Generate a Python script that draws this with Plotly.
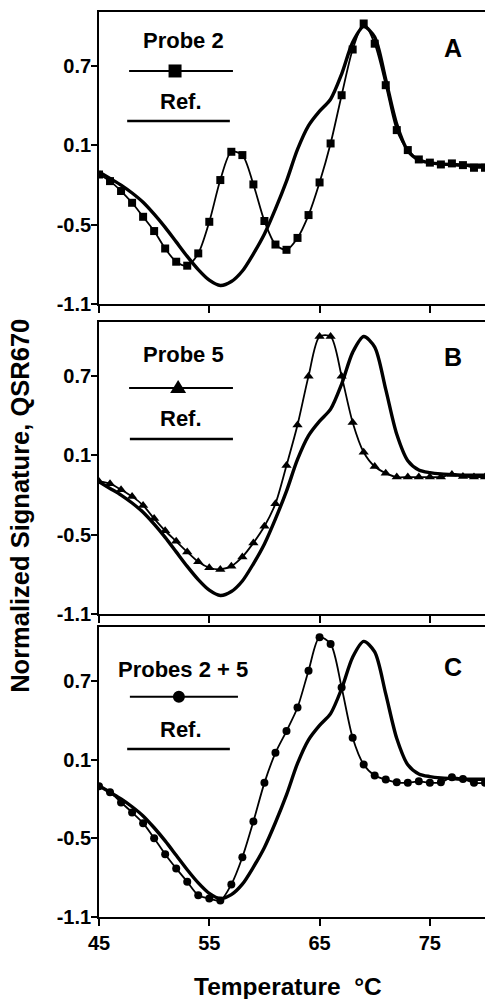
import plotly.graph_objects as go

# ---------------- data ----------------
temps = list(range(45, 81))

ref_sig = [-0.10, -0.15, -0.20, -0.26, -0.33, -0.42, -0.52, -0.63, -0.74, -0.84,
           -0.92, -0.96, -0.93, -0.85, -0.72, -0.57, -0.38, -0.17, 0.07, 0.25,
           0.36, 0.45, 0.64, 0.88, 1.00, 0.92, 0.60, 0.26, 0.06, -0.01,
           -0.03, -0.04, -0.045, -0.05, -0.05, -0.05]

probe2_sig = [-0.12, -0.17, -0.245, -0.334, -0.44, -0.548, -0.68, -0.78, -0.81, -0.717,
              -0.478, -0.162, 0.052, 0.027, -0.195, -0.472, -0.65, -0.69, -0.60, -0.427,
              -0.18, 0.115, 0.48, 0.826, 1.023, 0.87, 0.556, 0.216, 0.065, -0.006,
              -0.03, -0.044, -0.036, -0.049, -0.069, -0.069]

probe5_sig = [-0.097, -0.114, -0.16, -0.21, -0.278, -0.378, -0.47, -0.55, -0.63, -0.705,
              -0.75, -0.763, -0.738, -0.668, -0.562, -0.436, -0.265, 0.024, 0.33, 0.70,
              1.0, 1.0, 0.70, 0.35, 0.124, 0.016, -0.034, -0.064, -0.064, -0.064,
              -0.064, -0.064, -0.044, -0.06, -0.064, -0.064]

probes25_sig = [-0.104, -0.15, -0.227, -0.303, -0.385, -0.50, -0.622, -0.73, -0.832, -0.934,
                -0.96, -0.975, -0.852, -0.645, -0.372, -0.078, 0.151, 0.317, 0.496, 0.777,
                1.032, 0.981, 0.649, 0.266, 0.062, -0.022, -0.053, -0.074, -0.078, -0.066,
                -0.078, -0.074, -0.035, -0.048, -0.078, -0.078]

y_ticks = [-1.1, -0.5, 0.1, 0.7]
y_tick_labels = ["-1.1", "-0.5", "0.1", "0.7"]
x_ticks = [45, 55, 65, 75]
x_tick_labels = ["45", "55", "65", "75"]

panel_letters = ["A", "B", "C"]
probe_names = ["Probe 2", "Probe 5", "Probes 2 + 5"]
ref_name = "Ref."
probe_series = [probe2_sig, probe5_sig, probes25_sig]
probe_symbols = ["square", "triangle-up", "circle"]

y_title = "Normalized Signature, QSR670"
x_title = "Temperature  °C"

# ---------------- layout constants ----------------
FONT = "Liberation Sans, Arial, sans-serif"
W, H = 485, 999
domains = [[0.6957, 0.9880], [0.3854, 0.6777], [0.0821, 0.3724]]
marker_sizes = [8, 9, 8]

fig = go.Figure()
for i in range(3):
    xa = "x" if i == 0 else f"x{i+1}"
    ya = "y" if i == 0 else f"y{i+1}"
    fig.add_trace(go.Scatter(x=temps, y=ref_sig, mode="lines", name=ref_name,
                             line=dict(color="black", width=3.4, shape="spline", smoothing=0.8),
                             xaxis=xa, yaxis=ya, showlegend=False))
    fig.add_trace(go.Scatter(x=temps, y=probe_series[i], mode="lines+markers", name=probe_names[i],
                             line=dict(color="black", width=1.8, shape="spline", smoothing=0.8),
                             marker=dict(symbol=probe_symbols[i], size=marker_sizes[i], color="black"),
                             xaxis=xa, yaxis=ya, showlegend=False))

layout = dict(width=W, height=H, margin=dict(l=99, r=0, t=0, b=0),
              plot_bgcolor="white", paper_bgcolor="white", showlegend=False,
              font=dict(family=FONT, color="black"))

for i in range(3):
    xk = "xaxis" if i == 0 else f"xaxis{i+1}"
    yk = "yaxis" if i == 0 else f"yaxis{i+1}"
    ya = "y" if i == 0 else f"y{i+1}"
    xa = "x" if i == 0 else f"x{i+1}"
    layout[xk] = dict(domain=[0, 1], anchor=ya, range=[45, 80], tickvals=x_ticks,
                      ticktext=x_tick_labels, showticklabels=(i == 2), ticks="outside",
                      ticklen=7, tickwidth=1.5, tickcolor="black", showline=True,
                      linecolor="black", linewidth=1.8, mirror=True, showgrid=False,
                      zeroline=False, automargin=False,
                      tickfont=dict(family=FONT, size=20, color="black", weight="bold"))
    layout[yk] = dict(domain=domains[i], anchor=xa, range=[-1.1, 1.11], tickvals=y_ticks,
                      ticktext=y_tick_labels, ticks="outside", ticklen=6, tickwidth=1.5,
                      tickcolor="black", showline=True, linecolor="black", linewidth=1.8,
                      showgrid=False, zeroline=False, automargin=False,
                      ticklabelstandoff=-4,
                      tickfont=dict(family=FONT, size=20, color="black", weight="bold"))

fig.update_layout(**layout)

# ---------------- legends and panel letters ----------------
leg = [
    dict(ty=0.904, ly=0.798, x0=0.078, x1=0.347, mx=0.197, rty=0.692, rly=0.627, rx0=0.073, rx1=0.339, px=0.218),
    dict(ty=0.887, ly=0.774, x0=0.078, x1=0.347, mx=0.205, rty=0.671, rly=0.599, rx0=0.080, rx1=0.347, px=0.218),
    dict(ty=0.852, ly=0.759, x0=0.080, x1=0.360, mx=0.207, rty=0.645, rly=0.579, rx0=0.073, rx1=0.339, px=0.218),
]
letter_y = [0.877, 0.880, 0.862]
heights_px = [292, 292, 290]

for i in range(3):
    xr = ("x" if i == 0 else f"x{i+1}") + " domain"
    yr = ("y" if i == 0 else f"y{i+1}") + " domain"
    L = leg[i]
    fig.add_annotation(text=probe_names[i], xref=xr, yref=yr, x=L["px"], y=L["ty"],
                       showarrow=False, xanchor="center", yanchor="middle",
                       font=dict(family=FONT, size=22, color="black", weight="bold"))
    fig.add_annotation(text=ref_name, xref=xr, yref=yr, x=0.212, y=L["rty"],
                       showarrow=False, xanchor="center", yanchor="middle",
                       font=dict(family=FONT, size=22, color="black", weight="bold"))
    fig.add_shape(type="line", xref=xr, yref=yr, x0=L["x0"], x1=L["x1"], y0=L["ly"], y1=L["ly"],
                  line=dict(color="black", width=2))
    fig.add_shape(type="line", xref=xr, yref=yr, x0=L["rx0"], x1=L["rx1"], y0=L["rly"], y1=L["rly"],
                  line=dict(color="black", width=2.5))
    hx = 6.5 / 386.0
    hy = 6.5 / heights_px[i]
    if i == 0:
        fig.add_shape(type="rect", xref=xr, yref=yr, x0=L["mx"] - hx, x1=L["mx"] + hx,
                      y0=L["ly"] - hy, y1=L["ly"] + hy, fillcolor="black", line=dict(width=0))
    elif i == 1:
        tx = 8.0 / 386.0
        ty = 13.0 / heights_px[i]
        yb = L["ly"] - 5.0 / heights_px[i]
        fig.add_shape(type="path", xref=xr, yref=yr,
                      path=f"M {L['mx']-tx},{yb} L {L['mx']+tx},{yb} L {L['mx']},{yb+ty} Z",
                      fillcolor="black", line=dict(width=0))
    else:
        cx = 6.0 / 386.0
        cy = 6.0 / heights_px[i]
        fig.add_shape(type="circle", xref=xr, yref=yr, x0=L["mx"] - cx, x1=L["mx"] + cx,
                      y0=L["ly"] - cy, y1=L["ly"] + cy, fillcolor="black", line=dict(width=0))
    fig.add_annotation(text=panel_letters[i], xref=xr, yref=yr, x=0.917, y=letter_y[i],
                       showarrow=False, xanchor="center", yanchor="middle",
                       font=dict(family=FONT, size=25, color="black", weight="bold"))

fig.add_annotation(text=y_title, xref="paper", yref="paper", x=-0.205, y=0.4935,
                   textangle=-90, showarrow=False, xanchor="center", yanchor="middle",
                   font=dict(family=FONT, size=25.5, color="black", weight="bold"))
fig.add_annotation(text=x_title, xref="paper", yref="paper", x=0.49, y=0.013,
                   showarrow=False, xanchor="center", yanchor="middle",
                   font=dict(family=FONT, size=24.5, color="black", weight="bold"))

fig.write_html("out.html", config={"displayModeBar": False},
               post_script="document.body.style.margin='0';document.body.style.overflow='hidden';")
